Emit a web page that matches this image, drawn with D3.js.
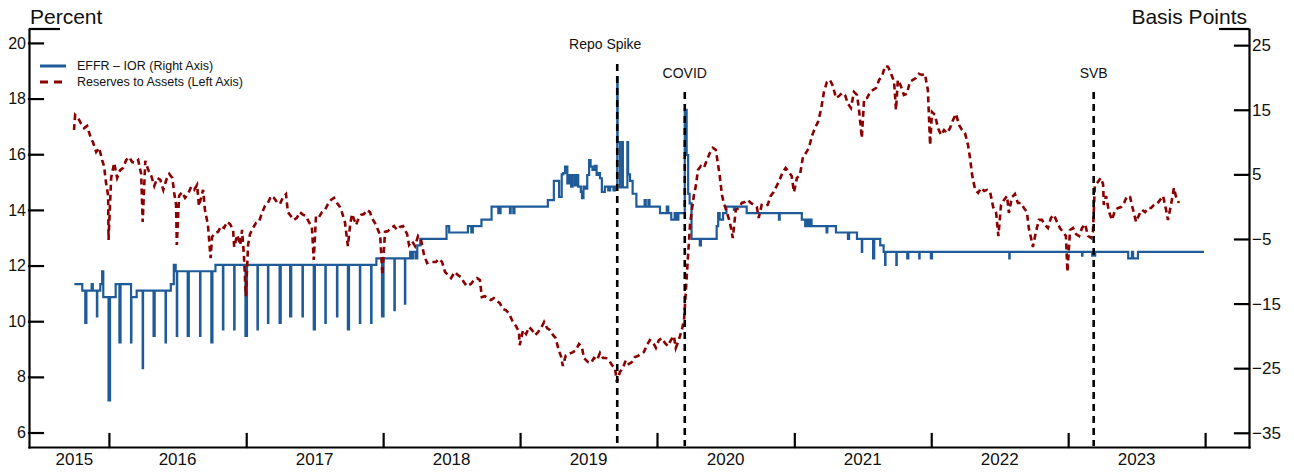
<!DOCTYPE html>
<html>
<head>
<meta charset="utf-8">
<script src="https://cdn.jsdelivr.net/npm/d3@7"></script>
<style>
  body { margin: 0; background: #fff; }
  svg text { font-family: "Liberation Sans", Arial, Helvetica, sans-serif; fill: #111; }
</style>
</head>
<body>
<svg id="chart" width="1294" height="475"></svg>
<script>
// EFFR minus IOR, basis points (right axis)
var effrIor = [
  ["2015-10-01",-12],["2015-10-22",-13],["2015-10-30",-18],["2015-11-02",-13],["2015-11-16",-12],["2015-11-19",-13],
  ["2015-11-30",-17],["2015-12-01",-13],["2015-12-09",-12],["2015-12-14",-10],["2015-12-17",-14],["2015-12-31",-30],
  ["2016-01-04",-14],["2016-01-19",-12],["2016-01-29",-21],["2016-02-01",-12],["2016-02-29",-21],["2016-03-01",-14],
  ["2016-03-15",-13],["2016-03-31",-25],["2016-04-01",-13],["2016-04-29",-20],["2016-05-02",-13],["2016-05-31",-21],
  ["2016-06-01",-13],["2016-06-14",-12],["2016-06-22",-9],["2016-06-27",-10],["2016-06-30",-20],["2016-07-01",-10],
  ["2016-07-29",-20],["2016-08-01",-10],["2016-08-31",-20],["2016-09-01",-10],["2016-09-30",-21],["2016-10-03",-10],
  ["2016-10-11",-9],["2016-10-31",-19],["2016-11-01",-9],["2016-11-30",-19],["2016-12-01",-9],["2016-12-30",-20],
  ["2017-01-03",-9],["2017-01-31",-19],["2017-02-01",-9],["2017-02-28",-18],["2017-03-01",-9],["2017-03-31",-18],
  ["2017-04-03",-9],["2017-04-28",-17],["2017-05-01",-9],["2017-05-31",-17],["2017-06-01",-9],["2017-06-30",-19],
  ["2017-07-03",-9],["2017-07-31",-18],["2017-08-01",-9],["2017-08-31",-17],["2017-09-01",-9],["2017-09-29",-19],
  ["2017-10-02",-9],["2017-10-31",-18],["2017-11-01",-9],["2017-11-30",-18],["2017-12-01",-9],["2017-12-14",-8],
  ["2017-12-29",-17],["2018-01-02",-8],["2018-01-31",-16],["2018-02-01",-8],["2018-02-28",-15],["2018-03-01",-8],
  ["2018-03-14",-7],["2018-03-19",-8],["2018-03-22",-7],["2018-03-29",-8],["2018-04-02",-6],["2018-04-10",-5],
  ["2018-06-19",-3],["2018-06-26",-4],["2018-08-15",-3],["2018-08-24",-4],["2018-08-28",-3],["2018-09-20",-2],
  ["2018-10-17",0],["2018-11-04",-1],["2018-11-06",0],["2018-11-08",-1],["2018-11-10",0],["2018-12-05",-1],
  ["2018-12-07",0],["2018-12-14",-1],["2018-12-17",0],["2019-03-16",1],["2019-04-01",4],["2019-04-15",1.5],
  ["2019-04-22",5],["2019-04-26",5.2],["2019-05-01",6.2],["2019-05-07",3.6],["2019-05-12",4.9],["2019-05-17",3.1],
  ["2019-05-21",4.9],["2019-05-27",3.3],["2019-06-01",4.9],["2019-06-05",3.1],["2019-06-12",2.3],["2019-06-15",1.3],
  ["2019-06-19",3.1],["2019-06-24",2.8],["2019-06-29",4.9],["2019-07-04",7.2],["2019-07-08",6.2],["2019-07-13",5.7],
  ["2019-07-19",6.3],["2019-07-24",4.9],["2019-07-28",5.2],["2019-08-02",4.4],["2019-08-07",2.3],["2019-08-15",3.1],
  ["2019-08-24",2.5],["2019-08-29",3.1],["2019-09-07",2.5],["2019-09-11",3.1],["2019-09-17",20],["2019-09-18",10],
  ["2019-09-24",3],["2019-09-30",10],["2019-10-02",3],["2019-10-14",10],["2019-10-16",5],["2019-10-21",4],
  ["2019-10-28",2],["2019-11-07",0],["2019-11-29",1],["2019-12-02",0],
  ["2019-12-09",1],["2019-12-12",0],["2020-01-09",-1],["2020-01-27",0],["2020-01-31",-1],["2020-02-08",-2],
  ["2020-02-17",-1],["2020-02-22",-2],["2020-02-27",-1],["2020-03-15",15],["2020-03-20",8],["2020-03-24",2],
  ["2020-03-28",0.5],["2020-04-02",-5],["2020-04-24",-6],["2020-04-27",-5],["2020-06-08",-3],["2020-06-12",-1],
  ["2020-06-16",-2],["2020-06-25",-1],["2020-07-04",0],["2020-07-24",-0.5],["2020-07-27",0],["2020-08-27",-1],
  ["2020-11-21",-2],["2020-11-23",-1],["2021-01-21",-2],["2021-01-30",-3],["2021-02-03",-2],["2021-02-07",-3],
  ["2021-02-12",-2],["2021-02-16",-3],["2021-03-28",-4],["2021-03-30",-3],["2021-04-22",-4],["2021-05-24",-5],
  ["2021-05-27",-4],["2021-06-17",-5],["2021-06-30",-7],["2021-07-01",-5],["2021-07-30",-8],["2021-08-02",-5],
  ["2021-08-18",-6],["2021-08-27",-7],["2021-08-31",-9],["2021-09-01",-7],["2021-09-30",-9],["2021-10-01",-7],
  ["2021-10-29",-8],["2021-11-01",-7],["2021-11-30",-8],["2021-12-01",-7],["2021-12-31",-8],["2022-01-03",-7],
  ["2022-07-28",-8],["2022-07-29",-7],["2023-02-07",-7.6],["2023-02-08",-7],["2023-03-06",-7.6],["2023-03-08",-7],
  ["2023-03-10",-7.6],["2023-03-14",-7],["2023-06-10",-8],["2023-06-20",-7],["2023-06-23",-8],["2023-07-03",-8],
  ["2023-07-06",-7],["2023-12-29",-7]
];

// reserves to assets, percent (left axis)
var reserves = [
  ["2015-09-30",16.87],["2015-10-03",17.41],["2015-10-11",17.30],["2015-10-19",17.09],["2015-10-27",16.94],["2015-11-04",17.02],
  ["2015-11-12",16.66],["2015-11-20",16.41],["2015-11-28",16.08],["2015-12-06",16.23],["2015-12-14",15.79],["2015-12-19",15.58],
  ["2015-12-24",15.00],["2015-12-30",14.50],["2015-12-31",12.92],["2016-01-07",15.15],["2016-01-15",15.69],["2016-01-23",15.15],
  ["2016-01-31",15.43],["2016-02-08",15.51],["2016-02-16",15.79],["2016-02-24",15.90],["2016-03-03",15.72],["2016-03-11",15.69],
  ["2016-03-19",15.79],["2016-03-27",15.29],["2016-03-31",13.57],["2016-04-07",15.76],["2016-04-15",15.43],["2016-04-23",15.22],
  ["2016-05-01",14.86],["2016-05-09",15.15],["2016-05-17",15.08],["2016-05-25",14.72],["2016-06-02",15.08],["2016-06-10",15.29],
  ["2016-06-18",15.15],["2016-06-23",14.61],["2016-06-28",14.18],["2016-06-30",12.74],["2016-07-06",14.50],["2016-07-14",14.64],
  ["2016-07-22",14.43],["2016-07-30",14.57],["2016-08-07",14.82],["2016-08-15",14.72],["2016-08-23",14.90],["2016-08-28",14.14],
  ["2016-09-08",14.72],["2016-09-13",14.00],["2016-09-21",13.46],["2016-09-28",12.27],["2016-10-02",13.03],["2016-10-10",13.17],
  ["2016-10-18",13.21],["2016-10-26",13.42],["2016-11-03",13.35],["2016-11-11",13.57],["2016-11-19",13.49],["2016-11-27",13.28],
  ["2016-11-30",12.67],["2016-12-08",13.10],["2016-12-16",12.74],["2016-12-21",13.28],["2016-12-26",12.34],["2016-12-31",10.90],
  ["2017-01-06",12.74],["2017-01-11",13.13],["2017-01-19",13.35],["2017-01-27",13.53],["2017-02-04",13.57],["2017-02-12",13.89],
  ["2017-02-20",14.14],["2017-02-28",14.25],["2017-03-08",14.50],["2017-03-16",14.43],["2017-03-24",14.28],["2017-04-01",14.21],
  ["2017-04-09",14.46],["2017-04-17",14.57],["2017-04-22",13.92],["2017-04-30",13.78],["2017-05-08",13.64],["2017-05-16",13.71],
  ["2017-05-24",13.92],["2017-05-30",13.85],["2017-06-09",13.78],["2017-06-17",13.57],["2017-06-25",13.39],["2017-06-30",12.20],
  ["2017-07-06",13.78],["2017-07-14",13.74],["2017-07-22",13.92],["2017-07-30",14.00],["2017-08-07",14.21],["2017-08-15",14.36],
  ["2017-08-23",14.43],["2017-08-31",14.25],["2017-09-08",14.10],["2017-09-13",13.92],["2017-09-21",13.57],["2017-09-29",12.70],
  ["2017-10-05",13.46],["2017-10-10",13.85],["2017-10-21",13.46],["2017-10-26",13.64],["2017-11-03",13.82],["2017-11-11",13.85],
  ["2017-11-19",14.00],["2017-11-27",13.92],["2017-12-02",13.71],["2017-12-10",13.53],["2017-12-16",13.35],["2017-12-24",13.10],
  ["2017-12-30",11.66],["2018-01-06",13.21],["2018-01-14",13.24],["2018-01-22",13.35],["2018-01-30",13.42],["2018-02-07",13.28],
  ["2018-02-15",13.39],["2018-02-23",13.42],["2018-02-28",13.28],["2018-03-06",13.13],["2018-03-11",12.74],["2018-03-19",12.88],
  ["2018-03-27",12.70],["2018-04-04",13.06],["2018-04-12",12.92],["2018-04-20",12.38],["2018-04-28",12.09],["2018-05-06",12.13],
  ["2018-05-14",12.13],["2018-05-22",12.13],["2018-05-30",12.24],["2018-06-07",12.13],["2018-06-15",11.77],["2018-06-23",11.66],
  ["2018-07-01",11.55],["2018-07-11",11.77],["2018-07-19",11.66],["2018-07-27",11.59],["2018-08-04",11.41],["2018-08-12",11.26],
  ["2018-08-23",11.34],["2018-08-31",11.48],["2018-09-08",11.55],["2018-09-16",11.48],["2018-09-21",10.87],["2018-09-29",10.90],
  ["2018-10-07",10.83],["2018-10-15",10.76],["2018-10-23",10.83],["2018-10-31",10.73],["2018-11-08",10.65],["2018-11-16",10.44],
  ["2018-11-24",10.40],["2018-12-02",10.29],["2018-12-13",9.97],["2018-12-21",9.83],["2018-12-29",9.61],["2018-12-31",9.14],
  ["2019-01-09",9.68],["2019-01-17",9.54],["2019-01-25",9.79],["2019-02-02",9.68],["2019-02-10",9.50],["2019-02-18",9.61],
  ["2019-02-26",9.75],["2019-03-06",9.97],["2019-03-14",9.75],["2019-03-22",9.68],["2019-03-30",9.50],["2019-04-06",9.39],
  ["2019-04-14",8.96],["2019-04-20",8.75],["2019-04-25",8.39],["2019-05-03",8.78],["2019-05-11",8.82],["2019-05-22",8.89],
  ["2019-05-30",8.96],["2019-06-07",9.18],["2019-06-15",9.07],["2019-06-20",8.68],["2019-07-01",8.53],["2019-07-09",8.50],
  ["2019-07-17",8.68],["2019-07-25",8.60],["2019-08-02",8.86],["2019-08-10",8.68],["2019-08-18",8.68],["2019-08-26",8.60],
  ["2019-09-03",8.42],["2019-09-11",8.32],["2019-09-16",7.81],["2019-09-24",8.17],["2019-10-02",8.32],["2019-10-10",8.60],
  ["2019-10-18",8.46],["2019-10-26",8.53],["2019-11-03",8.71],["2019-11-11",8.75],["2019-11-19",8.82],["2019-11-27",8.89],
  ["2019-12-05",9.14],["2019-12-13",9.32],["2019-12-21",9.25],["2019-12-29",9.04],["2020-01-06",9.32],["2020-01-14",9.39],
  ["2020-01-22",9.22],["2020-01-30",9.11],["2020-02-07",9.32],["2020-02-15",9.47],["2020-02-20",9.04],["2020-02-28",9.32],
  ["2020-03-07",9.68],["2020-03-13",10.04],["2020-03-18",11.12],["2020-03-23",12.20],["2020-03-29",13.46],["2020-04-03",14.00],
  ["2020-04-08",14.50],["2020-04-14",14.90],["2020-04-19",15.43],["2020-04-27",15.58],["2020-05-05",15.51],["2020-05-13",15.79],
  ["2020-05-21",16.05],["2020-05-29",16.23],["2020-06-06",16.15],["2020-06-11",15.69],["2020-06-16",15.25],["2020-06-22",14.54],
  ["2020-06-27",14.25],["2020-07-05",13.92],["2020-07-13",13.57],["2020-07-21",12.99],["2020-07-29",14.00],["2020-08-06",14.07],
  ["2020-08-14",14.25],["2020-08-22",14.28],["2020-08-30",14.36],["2020-09-07",14.25],["2020-09-15",14.18],["2020-09-23",14.10],
  ["2020-09-28",13.71],["2020-10-06",14.18],["2020-10-14",14.14],["2020-10-22",14.18],["2020-10-30",14.50],["2020-11-07",14.64],
  ["2020-11-15",14.86],["2020-11-23",15.08],["2020-12-01",15.36],["2020-12-09",15.51],["2020-12-17",15.36],["2020-12-25",15.22],
  ["2020-12-31",14.64],["2021-01-08",15.15],["2021-01-16",15.25],["2021-01-24",15.90],["2021-02-01",16.05],["2021-02-09",16.23],
  ["2021-02-17",16.66],["2021-02-25",16.94],["2021-03-05",17.16],["2021-03-13",17.59],["2021-03-21",18.24],["2021-03-29",18.60],
  ["2021-04-06",18.67],["2021-04-14",18.45],["2021-04-22",18.02],["2021-04-30",18.09],["2021-05-08",18.20],["2021-05-16",18.13],
  ["2021-05-24",17.81],["2021-06-01",17.66],["2021-06-09",18.24],["2021-06-17",18.13],["2021-06-22",17.66],["2021-06-30",16.58],
  ["2021-07-06",17.99],["2021-07-14",18.02],["2021-07-22",18.24],["2021-07-30",18.31],["2021-08-07",18.38],["2021-08-15",18.67],
  ["2021-08-23",18.81],["2021-08-31",19.17],["2021-09-08",19.14],["2021-09-16",18.89],["2021-09-24",18.60],["2021-09-29",17.59],
  ["2021-10-04",18.67],["2021-10-12",18.45],["2021-10-20",18.13],["2021-10-28",18.17],["2021-11-05",18.60],["2021-11-13",18.67],
  ["2021-11-21",18.74],["2021-11-29",18.89],["2021-12-07",18.85],["2021-12-15",18.89],["2021-12-23",18.31],["2021-12-29",16.33],
  ["2022-01-03",17.52],["2022-01-11",17.41],["2022-01-19",16.94],["2022-01-27",16.69],["2022-02-04",16.87],["2022-02-12",16.76],
  ["2022-02-20",16.94],["2022-02-28",17.23],["2022-03-08",17.45],["2022-03-16",17.05],["2022-03-24",16.87],["2022-04-01",16.76],
  ["2022-04-09",16.33],["2022-04-14",15.90],["2022-04-20",15.25],["2022-04-28",14.72],["2022-05-06",14.61],["2022-05-14",14.79],
  ["2022-05-22",14.68],["2022-05-30",14.72],["2022-06-07",14.64],["2022-06-15",14.10],["2022-06-23",13.89],["2022-06-29",13.06],
  ["2022-07-06",14.18],["2022-07-14",14.36],["2022-07-22",14.50],["2022-07-27",13.89],["2022-08-04",14.46],["2022-08-12",14.57],
  ["2022-08-20",14.25],["2022-08-28",14.25],["2022-09-05",14.07],["2022-09-13",13.92],["2022-09-18",13.35],["2022-09-24",12.99],
  ["2022-09-29",12.67],["2022-10-07",13.21],["2022-10-15",13.64],["2022-10-23",13.64],["2022-10-31",13.46],["2022-11-08",13.35],
  ["2022-11-16",13.71],["2022-11-24",13.82],["2022-12-02",13.57],["2022-12-10",13.35],["2022-12-18",13.21],["2022-12-26",13.06],
  ["2022-12-30",11.77],["2023-01-06",13.28],["2023-01-14",13.35],["2023-01-22",13.13],["2023-01-30",13.06],["2023-02-07",13.35],
  ["2023-02-15",13.49],["2023-02-23",13.06],["2023-03-03",12.99],["2023-03-08",13.21],["2023-03-13",14.86],["2023-03-21",15.00],
  ["2023-03-29",15.15],["2023-04-04",14.93],["2023-04-06",14.18],["2023-04-12",14.50],["2023-04-20",13.92],["2023-04-28",13.64],
  ["2023-05-06",14.00],["2023-05-14",14.07],["2023-05-22",14.10],["2023-05-30",14.25],["2023-06-07",14.50],["2023-06-15",14.46],
  ["2023-06-23",14.00],["2023-07-01",13.57],["2023-07-09",13.82],["2023-07-17",14.00],["2023-07-25",13.92],["2023-08-02",14.07],
  ["2023-08-10",14.07],["2023-08-18",14.18],["2023-08-26",14.21],["2023-09-03",14.36],["2023-09-11",14.50],["2023-09-19",14.00],
  ["2023-09-24",13.64],["2023-10-02",14.18],["2023-10-10",14.79],["2023-10-15",14.50],["2023-10-23",14.25]
];

var events = [
  ["Repo Spike", "2019-09-17"],
  ["COVID", "2020-03-15"],
  ["SVB", "2023-03-10"]
];

var leftTicks = [6, 8, 10, 12, 14, 16, 18, 20];
var rightTicks = [-35, -25, -15, -5, 5, 15, 25];
var yearTicks = ["2016", "2017", "2018", "2019", "2020", "2021", "2022", "2023", "2024"];
var yearLabels = ["2015", "2016", "2017", "2018", "2019", "2020", "2021", "2022", "2023"];
var seriesNames = ["EFFR \u2013 IOR (Right Axis)", "Reserves to Assets (Left Axis)"];

var parse = d3.timeParse("%Y-%m-%d");
var blue = "#1f5b98", red = "#8b0000";

var svg = d3.select("#chart");
var mLeft = 29, mRight = 1249, mTop = 29, mBottom = 447;

var x = d3.scaleTime()
  .domain([parse("2015-06-02"), parse("2024-04-27")])
  .range([mLeft, mRight]);
var yL = d3.scaleLinear().domain([5.48, 20.5]).range([mBottom, mTop]);
var yR = d3.scaleLinear().domain([-37.2, 27.5]).range([mBottom, mTop]);

// axes
var gL = svg.append("g").attr("transform", "translate(" + mLeft + ",0)")
  .call(d3.axisLeft(yL).tickValues(leftTicks).tickSize(-14).tickSizeOuter(0).tickPadding(3));
var gR = svg.append("g").attr("transform", "translate(" + mRight + ",0)")
  .call(d3.axisRight(yR).tickValues(rightTicks).tickSize(-14).tickSizeOuter(0).tickPadding(3));
var gB = svg.append("g").attr("transform", "translate(0," + mBottom + ")")
  .call(d3.axisBottom(x).tickValues(yearTicks.map(d => parse(d + "-01-01"))).tickSize(-13).tickSizeOuter(0).tickFormat(""));

svg.selectAll(".domain, .tick line").attr("stroke", "#000").attr("stroke-width", 2.2).attr("stroke-linecap", "square");
gL.selectAll("text").style("font-size", "16px").attr("fill", "#111");
gR.selectAll("text").style("font-size", "17px").attr("fill", "#111");

// caps on top of the vertical axes
svg.append("line").attr("x1", mLeft).attr("x2", mLeft + 31).attr("y1", mTop).attr("y2", mTop)
  .attr("stroke", "#000").attr("stroke-width", 2.2);
svg.append("line").attr("x1", mRight - 30).attr("x2", mRight).attr("y1", mTop).attr("y2", mTop)
  .attr("stroke", "#000").attr("stroke-width", 2.2);

// year labels centred in the part of each year that is shown
var labelStart = parse("2015-07-01");
svg.append("g").selectAll("text")
  .data(yearLabels)
  .enter().append("text")
  .attr("x", d => {
    var a = d3.max([parse(d + "-01-01"), labelStart]);
    var b = parse((+d + 1) + "-01-01");
    return (x(a) + x(b)) / 2;
  })
  .attr("y", 465)
  .attr("text-anchor", "middle")
  .style("font-size", "17px")
  .text(d => d);

svg.append("text").attr("x", 30).attr("y", 24).style("font-size", "21px").text("Percent");
svg.append("text").attr("x", 1247).attr("y", 24).attr("text-anchor", "end").style("font-size", "21px").text("Basis Points");

// lines
var blueLine = d3.line()
  .x(d => x(parse(d[0])))
  .y(d => yR(d[1]))
  .curve(d3.curveStepAfter);
var redLine = d3.line()
  .x(d => x(parse(d[0])))
  .y(d => yL(d[1]));

svg.append("path").datum(effrIor)
  .attr("d", blueLine)
  .attr("fill", "none").attr("stroke", blue).attr("stroke-width", 2.2);

svg.append("path").datum(reserves)
  .attr("d", redLine)
  .attr("fill", "none").attr("stroke", red).attr("stroke-width", 2.6)
  .attr("stroke-dasharray", "6,4");

// event markers
events.forEach(function(e) {
  var ex = x(parse(e[1]));
  var high = e[0] === "Repo Spike";
  svg.append("line")
    .attr("x1", ex).attr("x2", ex)
    .attr("y1", high ? 64 : 92).attr("y2", mBottom - 1)
    .attr("stroke", "#000").attr("stroke-width", 2.6)
    .attr("stroke-dasharray", "7,5");
  svg.append("text")
    .attr("x", high ? ex - 12 : ex)
    .attr("y", high ? 49 : 78)
    .attr("text-anchor", "middle")
    .style("font-size", "14px")
    .text(e[0]);
});

// legend
var legend = svg.append("g");
legend.append("line").attr("x1", 40).attr("x2", 66).attr("y1", 66).attr("y2", 66)
  .attr("stroke", blue).attr("stroke-width", 3);
legend.append("line").attr("x1", 40).attr("x2", 66).attr("y1", 82).attr("y2", 82)
  .attr("stroke", red).attr("stroke-width", 3).attr("stroke-dasharray", "8,6");
legend.selectAll("text")
  .data(seriesNames)
  .enter().append("text")
  .attr("x", 77)
  .attr("y", (d, i) => 66 + i * 16)
  .attr("dy", "0.35em")
  .style("font-size", "12.5px")
  .text(d => d);
</script>
</body>
</html>
